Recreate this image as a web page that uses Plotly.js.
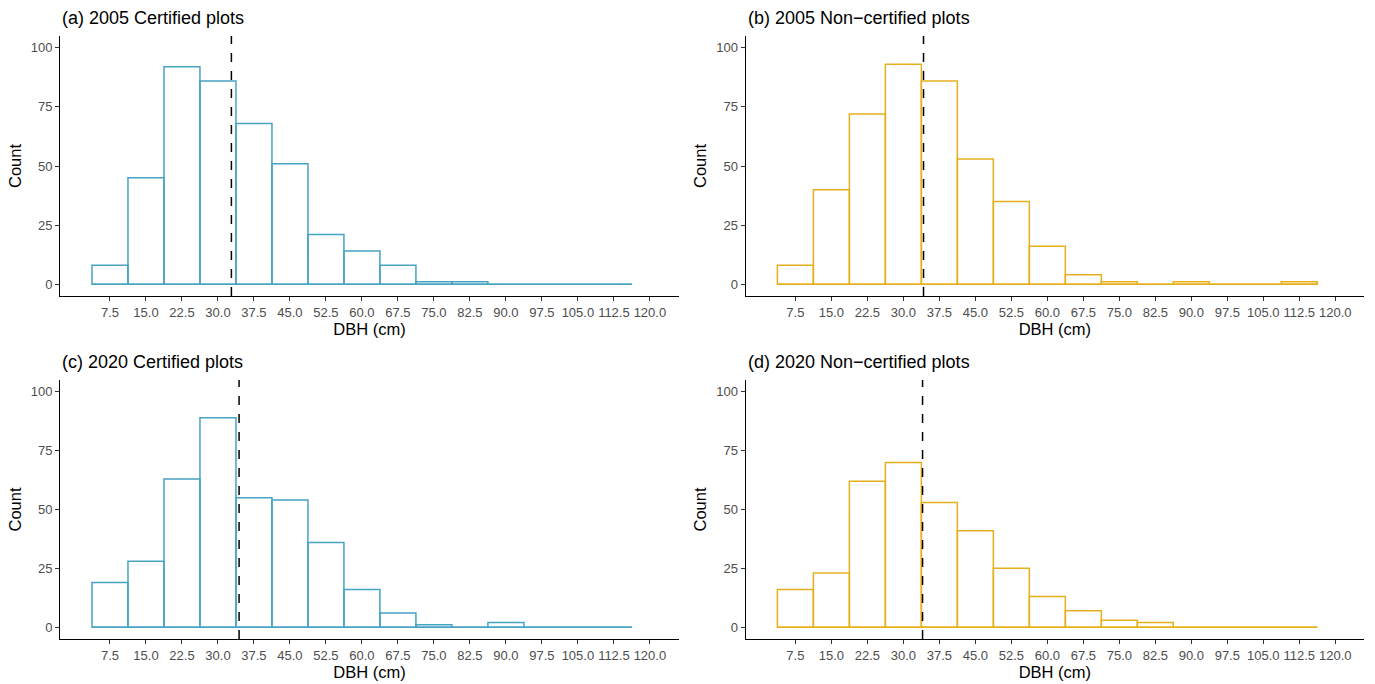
<!DOCTYPE html>
<html>
<head>
<meta charset="utf-8">
<script src="https://cdn.plot.ly/plotly-3.0.1.min.js"></script>
<style>html,body{margin:0;padding:0;background:#fff}#chart{width:1375px;height:684px}</style>
</head>
<body>
<div id="chart"></div>
<script>
// Bin centres (DBH, cm) and bin width
const binCenters = [7.5, 15, 22.5, 30, 37.5, 45, 52.5, 60, 67.5, 75, 82.5, 90, 97.5, 105, 112.5];
const binWidth = 7.5;

// Counts per bin for each panel
const cert2005 = [8, 45, 92, 86, 68, 51, 21, 14, 8, 1, 1, 0, 0, 0, 0];
const noncert2005 = [8, 40, 72, 93, 86, 53, 35, 16, 4, 1, 0, 1, 0, 0, 1];
const cert2020 = [19, 28, 63, 89, 55, 54, 36, 16, 6, 1, 0, 2, 0, 0, 0];
const noncert2020 = [16, 23, 62, 70, 53, 41, 25, 13, 7, 3, 2, 0, 0, 0, 0];

// Dashed reference lines (mean DBH)
const meanLines = [32.8, 34.2, 34.4, 34.0];

// Panel titles
const panelTitles = ["(a) 2005 Certified plots", "(b) 2005 Non\u2212certified plots",
                     "(c) 2020 Certified plots", "(d) 2020 Non\u2212certified plots"];

// Tick labels
const xTickVals = [7.5, 15, 22.5, 30, 37.5, 45, 52.5, 60, 67.5, 75, 82.5, 90, 97.5, 105, 112.5, 120];
const xTickText = xTickVals.map(v => v.toFixed(1));
const yTickVals = [0, 25, 50, 75, 100];

const blue = "#47A3C2";
const gold = "#E6B01C";

const panels = [
  {counts: cert2005, color: blue},
  {counts: noncert2005, color: gold},
  {counts: cert2020, color: blue},
  {counts: noncert2020, color: gold}
];

const W = 1375, H = 684;
const xDomPx = [[60.3, 678.7], [745.7, 1364.1], [60.3, 678.7], [745.7, 1364.1]];
const yDomPx = [[36, 296], [36, 296], [380, 639], [380, 639]];

const font = "Liberation Sans, Arial, Helvetica, sans-serif";
const traces = [];
const layout = {
  width: W, height: H,
  margin: {l: 0, r: 0, t: 0, b: 0},
  paper_bgcolor: "#fff", plot_bgcolor: "#fff",
  showlegend: false,
  font: {family: font},
  annotations: [],
  shapes: [],
  bargap: 0
};

panels.forEach((p, i) => {
  const n = i + 1;
  const xa = n === 1 ? "x" : "x" + n;
  const ya = n === 1 ? "y" : "y" + n;
  // baseline for empty bins (ggplot draws zero-height outlines)
  const lo = binCenters[0] - binWidth / 2;
  const hi = binCenters[binCenters.length - 1] + binWidth / 2;
  traces.push({
    type: "scatter", mode: "lines",
    x: [lo, hi], y: [0, 0],
    xaxis: xa, yaxis: ya,
    line: {color: p.color, width: 1.5},
    hoverinfo: "skip"
  });
  traces.push({
    type: "bar",
    x: binCenters, y: p.counts,
    width: binCenters.map(() => binWidth),
    xaxis: xa, yaxis: ya,
    marker: {color: "rgba(255,255,255,0)", line: {color: p.color, width: 1.5}},
    hoverinfo: "x+y"
  });

  const xd = xDomPx[i], yd = yDomPx[i];
  layout["xaxis" + (n === 1 ? "" : n)] = {
    domain: [xd[0] / W, xd[1] / W],
    anchor: ya,
    range: [-2.85, 126],
    tickmode: "array", tickvals: xTickVals, ticktext: xTickText,
    ticks: "outside", ticklen: 4, tickwidth: 1, tickcolor: "#333",
    showline: true, linecolor: "#000", linewidth: 1.2,
    showgrid: false, zeroline: false,
    tickfont: {size: 13, color: "#4d4d4d", family: font},
    title: {text: "DBH (cm)", font: {size: 16.5, color: "#000", family: font}, standoff: 2},
    fixedrange: true
  };
  layout["yaxis" + (n === 1 ? "" : n)] = {
    domain: [1 - yd[1] / H, 1 - yd[0] / H],
    anchor: xa,
    range: [-5, 105],
    tickmode: "array", tickvals: yTickVals,
    ticks: "outside", ticklen: 4, tickwidth: 1, tickcolor: "#333",
    showline: true, linecolor: "#000", linewidth: 1.2,
    showgrid: false, zeroline: false,
    tickfont: {size: 13, color: "#4d4d4d", family: font},
    title: {text: "Count", font: {size: 16.5, color: "#000", family: font}, standoff: 5},
    fixedrange: true
  };
  layout.shapes.push({
    type: "line", xref: xa, yref: ya + " domain",
    x0: meanLines[i], x1: meanLines[i], y0: 0, y1: 1,
    line: {color: "#000", width: 1.5, dash: "dash"}
  });
  layout.annotations.push({
    text: panelTitles[i], xref: "paper", yref: "paper",
    x: xd[0] / W, y: 1 - (yd[0] - 18) / H,
    xanchor: "left", yanchor: "middle", showarrow: false,
    font: {size: 18, color: "#000", family: font}
  });
});

Plotly.newPlot("chart", traces, layout, {displayModeBar: false, staticPlot: true});
</script>
</body>
</html>
